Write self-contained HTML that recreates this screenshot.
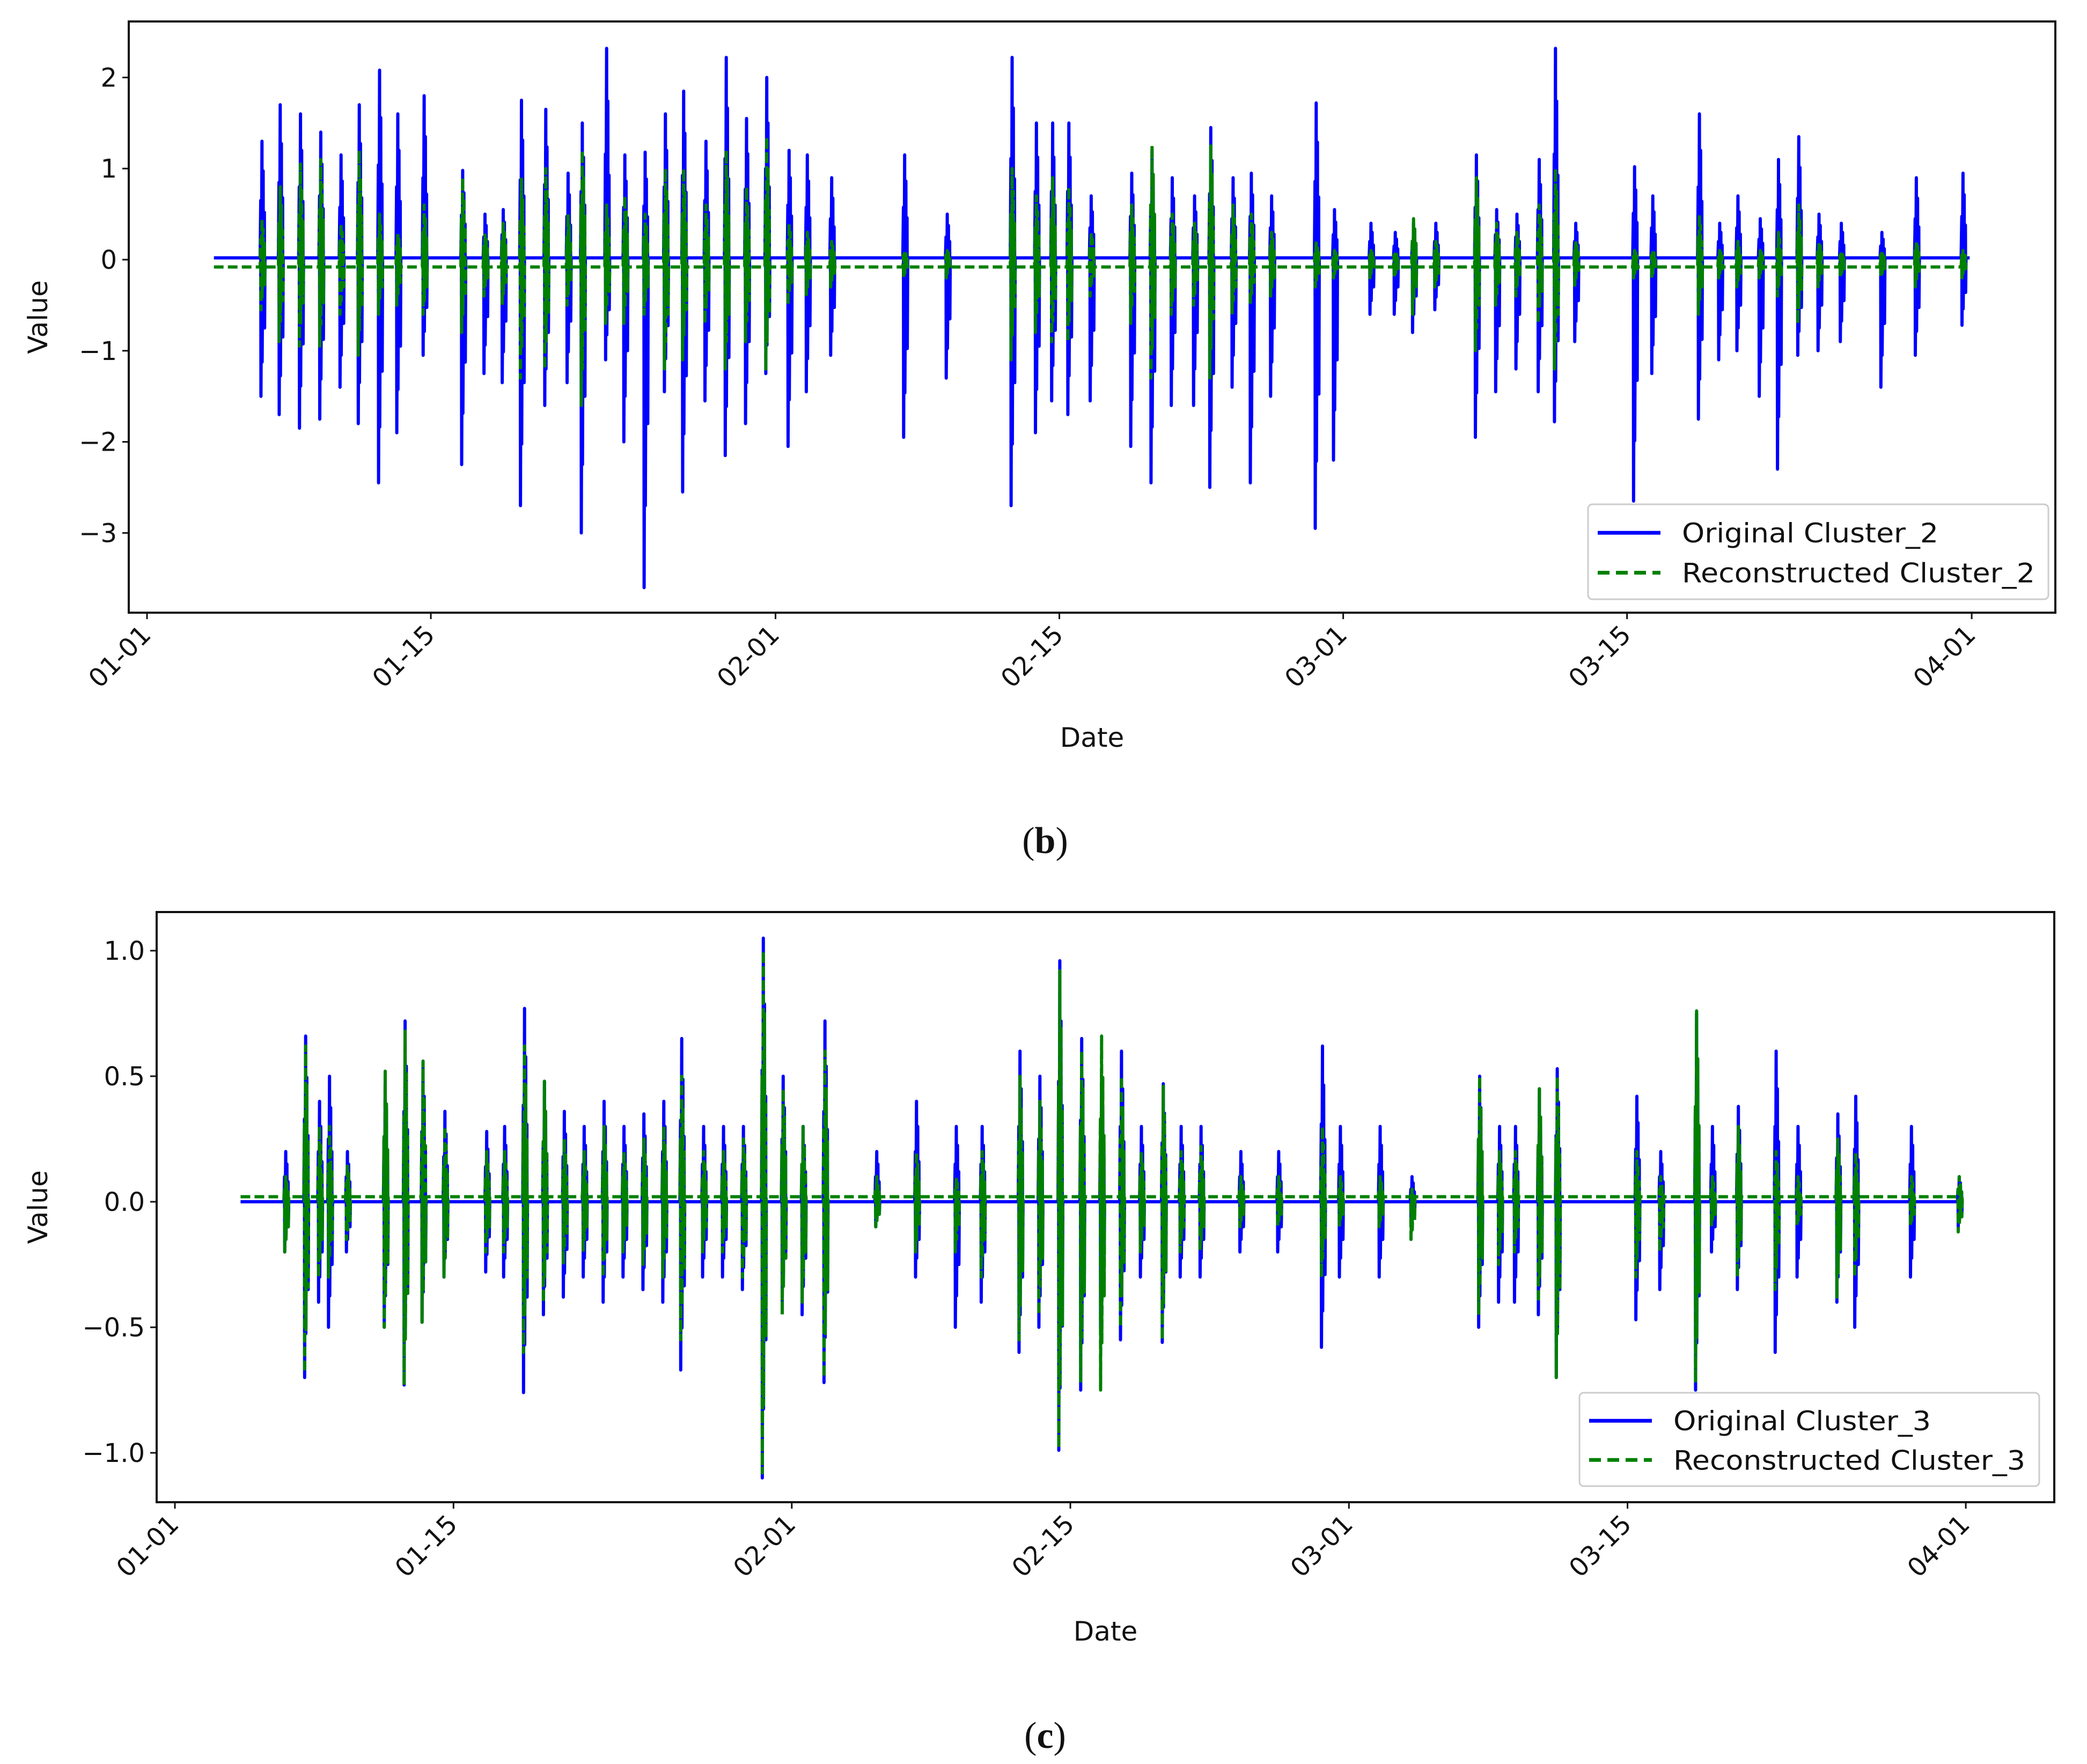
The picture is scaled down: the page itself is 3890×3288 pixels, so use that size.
<!DOCTYPE html>
<html><head><meta charset="utf-8"><style>
html,body{margin:0;padding:0;background:#fff}
svg{display:block}
text{font-family:"DejaVu Sans","Liberation Sans",sans-serif;fill:#111}
</style></head><body>
<svg id="fig" width="3890" height="3288" viewBox="0 0 3890 3288" xmlns="http://www.w3.org/2000/svg">
<rect width="3890" height="3288" fill="#fff"/>
<g id="chartB"></g>
<g id="chartC"></g>
<text x="1948" y="1590" text-anchor="middle" style="font-family:'Liberation Serif',serif;font-size:70px">(<tspan font-weight="bold">b</tspan>)</text>
<text x="1948" y="3258" text-anchor="middle" style="font-family:'Liberation Serif',serif;font-size:70px">(<tspan font-weight="bold">c</tspan>)</text>
</svg>
<script>
// ---- Data: cluster 2 (days since 01-01)
const b_days=[5.7,6.6,7.6,8.6,9.6,10.5,11.5,12.4,13.7,15.6,16.7,17.6,18.5,19.7,20.8,21.5,22.7,23.6,24.6,25.6,26.5,27.6,28.6,29.6,30.6,31.7,32.6,33.8,37.4,39.5,42.7,43.9,44.7,45.5,46.6,48.6,49.6,50.6,51.7,52.5,53.6,54.5,55.5,57.7,58.6,60.4,61.6,62.5,63.6,65.6,66.6,67.6,68.7,69.5,70.5,73.4,74.3,76.6,77.6,78.5,79.6,80.5,81.5,82.5,83.6,85.6,87.3,89.6];
const b_origMax=[1.3,1.7,1.6,1.4,1.15,1.7,2.08,1.6,1.8,0.98,0.5,0.55,1.75,1.65,0.95,1.5,2.32,1.15,1.18,1.6,1.85,1.3,2.22,1.55,2.0,1.2,1.15,0.9,1.15,0.5,2.22,1.5,1.5,1.5,0.7,0.95,1.2,0.9,0.7,1.45,0.9,0.95,0.7,1.72,0.55,0.4,0.3,0.4,0.4,1.15,0.55,0.5,1.1,2.32,0.4,1.02,0.7,1.6,0.4,0.7,0.45,1.1,1.35,0.5,0.4,0.3,0.9,0.95];
const b_origMin=[-1.5,-1.7,-1.85,-1.75,-1.4,-1.8,-2.45,-1.9,-1.05,-2.25,-1.25,-1.35,-2.7,-1.6,-1.35,-3.0,-1.1,-2.0,-3.6,-1.45,-2.55,-1.55,-2.15,-1.8,-1.25,-2.05,-1.45,-1.05,-1.95,-1.3,-2.7,-1.9,-1.55,-1.7,-1.55,-2.05,-2.45,-1.6,-1.6,-2.5,-1.4,-2.45,-1.5,-2.95,-2.2,-0.6,-0.6,-0.8,-0.55,-1.95,-1.45,-1.2,-1.45,-1.78,-0.9,-2.65,-1.25,-1.75,-1.1,-1.0,-1.5,-2.3,-1.05,-1.0,-0.9,-1.4,-1.05,-0.72];
const b_recMax=[0.45,0.8,1.05,1.1,0.4,1.2,0.5,0.3,0.6,0.9,0.3,0.4,0.9,1.0,0.5,1.2,0.6,0.7,0.5,1.0,1.0,0.6,1.2,0.8,1.35,0.4,0.3,0.2,0.1,0.1,1.0,0.7,0.9,0.8,0.3,0.6,1.25,0.5,0.4,1.25,0.6,0.5,0.3,0.2,0.1,0.1,0.1,0.45,0.2,0.9,0.4,0.3,0.6,1.0,0.2,0.1,0.1,0.5,0.1,0.2,0.1,0.3,0.6,0.2,0.1,0.1,0.2,0.1];
const b_recMin=[-0.55,-0.9,-0.95,-0.95,-0.6,-1.05,-0.6,-0.5,-0.6,-0.8,-0.4,-0.5,-1.3,-1.2,-0.5,-1.6,-0.7,-0.7,-0.6,-1.2,-1.1,-0.7,-1.2,-0.9,-1.2,-0.5,-0.4,-0.3,-0.2,-0.2,-1.1,-0.8,-0.9,-0.9,-0.4,-0.7,-1.3,-0.6,-0.5,-1.3,-0.6,-0.5,-0.4,-0.3,-0.2,-0.2,-0.2,-0.6,-0.3,-1.0,-0.5,-0.4,-0.7,-1.2,-0.3,-0.2,-0.2,-0.6,-0.2,-0.3,-0.2,-0.4,-0.7,-0.3,-0.2,-0.2,-0.3,-0.2];
// ---- Data: cluster 3
const c_days=[5.6,6.6,7.3,7.8,8.7,10.6,11.6,12.5,13.6,15.7,16.6,17.6,18.6,19.6,20.6,21.6,22.6,23.6,24.6,25.5,26.6,27.6,28.6,29.6,30.6,31.6,32.7,35.3,37.3,39.3,40.6,42.5,43.5,44.5,45.6,46.6,47.6,48.6,49.7,50.6,51.6,53.6,55.5,57.7,58.6,60.6,62.2,65.6,66.6,67.4,68.6,69.5,73.5,74.7,76.5,77.3,78.6,80.5,81.6,83.6,84.5,87.3,89.7];
const c_origMax=[0.2,0.66,0.4,0.5,0.2,0.5,0.72,0.56,0.36,0.28,0.3,0.77,0.48,0.36,0.3,0.4,0.3,0.35,0.4,0.65,0.3,0.3,0.3,1.05,0.5,0.3,0.72,0.2,0.4,0.3,0.3,0.6,0.5,0.96,0.65,0.5,0.6,0.3,0.47,0.3,0.3,0.2,0.2,0.62,0.3,0.3,0.1,0.5,0.3,0.3,0.45,0.53,0.42,0.2,0.75,0.3,0.38,0.6,0.3,0.35,0.42,0.3,0.1];
const c_origMin=[-0.2,-0.7,-0.4,-0.5,-0.2,-0.5,-0.73,-0.48,-0.3,-0.28,-0.3,-0.76,-0.45,-0.38,-0.3,-0.4,-0.3,-0.35,-0.4,-0.67,-0.3,-0.3,-0.35,-1.1,-0.4,-0.45,-0.72,-0.1,-0.3,-0.5,-0.4,-0.6,-0.5,-0.99,-0.75,-0.5,-0.55,-0.3,-0.56,-0.3,-0.3,-0.2,-0.2,-0.58,-0.3,-0.3,-0.1,-0.5,-0.4,-0.4,-0.45,-0.7,-0.47,-0.35,-0.75,-0.2,-0.35,-0.6,-0.3,-0.4,-0.5,-0.3,-0.1];
const c_recMax=[0.1,0.62,0.3,0.3,0.15,0.52,0.68,0.56,0.3,0.2,0.2,0.62,0.48,0.25,0.2,0.3,0.2,0.25,0.3,0.5,0.2,0.2,0.25,1.0,0.45,0.3,0.6,0.1,0.2,0.1,0.2,0.5,0.4,0.92,0.6,0.66,0.5,0.2,0.46,0.2,0.22,0.1,0.1,0.3,0.1,0.1,0.05,0.5,0.2,0.2,0.45,0.5,0.2,0.1,0.76,0.1,0.3,0.2,0.1,0.25,0.2,0.1,0.1];
const c_recMin=[-0.2,-0.68,-0.3,-0.3,-0.15,-0.5,-0.73,-0.48,-0.3,-0.2,-0.2,-0.6,-0.4,-0.25,-0.2,-0.3,-0.2,-0.25,-0.3,-0.55,-0.2,-0.2,-0.3,-1.08,-0.45,-0.4,-0.7,-0.1,-0.2,-0.2,-0.3,-0.55,-0.45,-0.98,-0.72,-0.75,-0.5,-0.2,-0.55,-0.2,-0.2,-0.1,-0.1,-0.3,-0.1,-0.1,-0.15,-0.45,-0.25,-0.2,-0.4,-0.7,-0.3,-0.2,-0.72,-0.1,-0.3,-0.35,-0.1,-0.38,-0.3,-0.1,-0.12];
const xTickLabels=["01-01","01-15","02-01","02-15","03-01","03-15","04-01"];
const xTickDays=[0,14,31,45,59,73,90];
const b_yTicks=[2,1,0,-1,-2,-3];
const b_yLabels=["2","1","0","\u22121","\u22122","\u22123"];
const c_yTicks=[1.0,0.5,0.0,-0.5,-1.0];
const c_yLabels=["1.0","0.5","0.0","\u22120.5","\u22121.0"];

const NS="http://www.w3.org/2000/svg";
function mk(tag,attrs,parent){const e=document.createElementNS(NS,tag);for(const k in attrs)e.setAttribute(k,attrs[k]);parent.appendChild(e);return e;}
const pattern=[0.5,1,0.75,0.4];
function draw(g,cfg){
  const X=d=>cfg.x0+d*cfg.pxDay, Y=v=>cfg.y0-v*cfg.pxUnit;
  const clip="clip"+cfg.id;
  const defs=mk('defs',{},g);const cp=mk('clipPath',{id:clip},defs);
  mk('rect',{x:cfg.L,y:cfg.T,width:cfg.R-cfg.L,height:cfg.B-cfg.T},cp);
  function series(days,mx,mn,base,color,dash,name){
    let pts=[[X(cfg.start),Y(base)]];
    for(let i=0;i<days.length;i++){
      const w=cfg.burstW;
      const n=pattern.length;
      pts.push([X(days[i]-w),Y(base)]);
      for(let k=0;k<n;k++){
        const dx=days[i]-w+2*w*(k+0.5)/n;
        pts.push([X(dx),Y(mx[i]*pattern[k])]);
        pts.push([X(dx+0.01),Y(mn[i]*pattern[(k+1)%n])]);
      }
      pts.push([X(days[i]+w),Y(base)]);
    }
    pts.push([X(cfg.end),Y(base)]);
    const p=mk('path',{d:'M'+pts.map(p=>p[0].toFixed(1)+','+p[1].toFixed(1)).join('L'),fill:'none',stroke:color,'stroke-width':cfg.lw,'stroke-linejoin':'round','clip-path':'url(#'+clip+')'},g);
    if(dash)p.setAttribute('stroke-dasharray',dash);
    
    
  }
  series(cfg.days,cfg.oMax,cfg.oMin,cfg.oBase,'#0000ff',null,'original-series-line');
  series(cfg.days,cfg.rMax,cfg.rMin,cfg.rBase,'#008000','18,8','reconstructed-series-line');
  const frame=mk('rect',{x:cfg.L,y:cfg.T,width:cfg.R-cfg.L,height:cfg.B-cfg.T,fill:'none',stroke:'#111','stroke-width':4},g);
  
  
  cfg.yt.forEach((v,i)=>{
    mk('line',{x1:cfg.L-12,x2:cfg.L,y1:Y(v),y2:Y(v),stroke:'#111','stroke-width':3},g);
    const t=mk('text',{x:cfg.L-22,y:Y(v)+17,'text-anchor':'end','font-size':48},g);t.textContent=cfg.yl[i];
    
    
  });
  xTickDays.forEach((d,i)=>{
    const x=X(d);
    mk('line',{x1:x,x2:x,y1:cfg.B,y2:cfg.B+12,stroke:'#111','stroke-width':3},g);
    const t=mk('text',{x:x+10,y:cfg.B+44,'text-anchor':'end','font-size':48,transform:'rotate(-45 '+(x+10)+' '+(cfg.B+44)+')'},g);t.textContent=xTickLabels[i];
    
    
  });
  const xt=mk('text',{x:(cfg.L+cfg.R)/2,y:cfg.dateY,'text-anchor':'middle','font-size':50},g);xt.textContent='Date';
  
  
  const yt=mk('text',{x:88,y:(cfg.T+cfg.B)/2,'text-anchor':'middle','font-size':50,transform:'rotate(-90 88 '+((cfg.T+cfg.B)/2)+')'},g);yt.textContent='Value';
  
  
  const lg=mk('g',{},g);
  
  
  const[lx,ly,lw2,lh]=cfg.leg;
  mk('rect',{x:lx,y:ly,width:lw2,height:lh,rx:8,fill:'#fff','fill-opacity':0.85,stroke:'#ccc','stroke-width':3},lg);
  mk('line',{x1:lx+18,x2:lx+135,y1:ly+lh*0.3,y2:ly+lh*0.3,stroke:'#0000ff','stroke-width':7},lg);
  mk('line',{x1:lx+18,x2:lx+135,y1:ly+lh*0.72,y2:ly+lh*0.72,stroke:'#008000','stroke-width':7,'stroke-dasharray':'22,12'},lg);
  const t1=mk('text',{x:lx+175,y:ly+lh*0.3+18,'font-size':50,textLength:cfg.legTL1,lengthAdjust:'spacingAndGlyphs'},lg);t1.textContent='Original '+cfg.name;
  
  
  const t2=mk('text',{x:lx+175,y:ly+lh*0.72+18,'font-size':50,textLength:cfg.legTL,lengthAdjust:'spacingAndGlyphs'},lg);t2.textContent='Reconstructed '+cfg.name;
  
  
}
draw(document.getElementById('chartB'),{id:'b',L:240,R:3831,T:40,B:1142,x0:274,pxDay:37.79,y0:484,pxUnit:169.8,
  days:b_days,oMax:b_origMax,oMin:b_origMin,rMax:b_recMax,rMin:b_recMin,oBase:0.02,rBase:-0.08,start:3.3,end:89.9,burstW:0.12,lw:6,
  yt:b_yTicks,yl:b_yLabels,dateY:1392,leg:[2960,940,858,177],legTL1:478,legTL:658,name:'Cluster_2'});
draw(document.getElementById('chartC'),{id:'c',L:292,R:3829,T:1700,B:2800,x0:326,pxDay:37.09,y0:2240,pxUnit:468,
  days:c_days,oMax:c_origMax,oMin:c_origMin,rMax:c_recMax,rMin:c_recMin,oBase:0.0,rBase:0.02,start:3.3,end:89.9,burstW:0.12,lw:6,
  yt:c_yTicks,yl:c_yLabels,dateY:3058,leg:[2944,2596,857,174],legTL1:480,legTL:656,name:'Cluster_3'});
</script>
</body></html>
